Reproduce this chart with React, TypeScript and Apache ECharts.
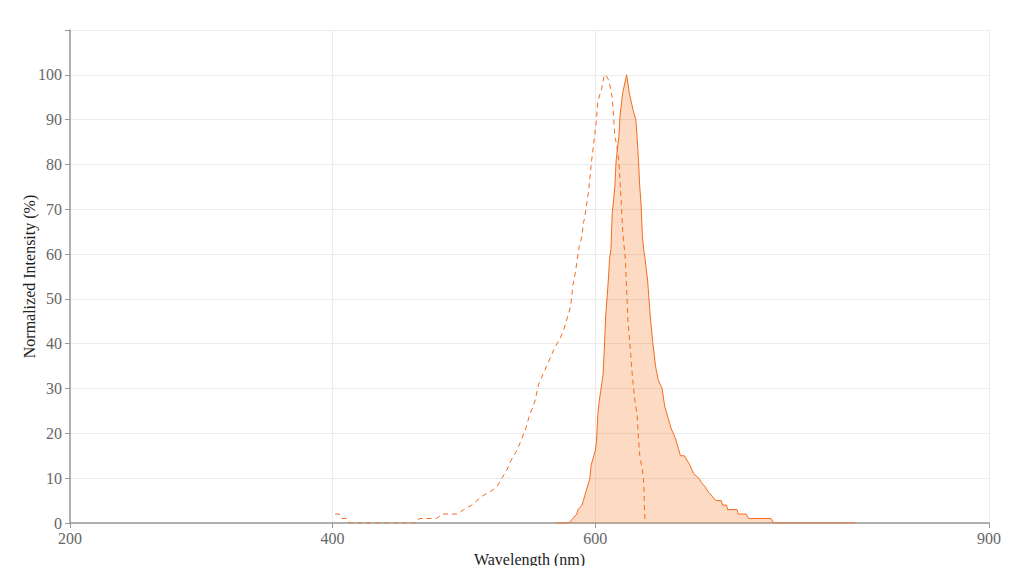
import React, { useEffect, useRef } from "react";
import * as echarts from "echarts";

const xTickLabels = [200, 400, 600, 900];

const excitationWl = [402, 405, 407, 411, 413, 464, 466, 477, 479, 484, 495, 500, 506, 510, 514, 520, 525, 529, 533, 536, 540, 543, 547, 550, 554, 557, 560, 563, 566, 569, 573, 576, 578, 581, 582, 583, 585, 586, 587, 588, 590, 591, 592, 594, 595, 596, 597, 599, 601, 602, 604, 605, 607, 608, 610, 611, 613, 614, 615, 616, 618, 619, 620, 621, 623, 624, 625, 627, 628, 630, 632, 633, 634, 636, 637, 638];
const excitationVal = [2, 2, 1, 1, 0, 0, 1, 1, 1, 2, 2, 3, 4, 5, 6, 7, 8, 10, 12, 14, 16, 18, 21, 24, 27, 31, 33, 35, 37, 39, 41, 43, 45, 48, 50, 53, 56, 58, 60, 62, 64, 67, 68, 72, 74, 77, 80, 85, 90, 94, 96, 97, 100, 100, 99, 98, 95, 91, 86, 85, 81, 76, 71, 65, 59, 52, 45, 38, 34, 28, 24, 19, 15, 12, 9, 0];

const emissionWl = [570, 580, 583, 586, 587, 590, 591, 593, 595, 596, 597, 599, 600, 601, 602, 603, 605, 606, 607, 608, 609, 610, 611, 612, 613, 615, 616, 618, 619, 621, 624, 626, 629, 631, 632, 633, 634, 635, 636, 637, 638, 640, 642, 644, 646, 648, 651, 653, 656, 658, 661, 663, 665, 668, 672, 675, 679, 681, 684, 686, 689, 692, 696, 697, 700, 701, 708, 709, 715, 717, 734, 736, 798];
const emissionVal = [0, 0, 1, 2, 3, 4, 5, 7, 9, 10, 13, 15, 16, 18, 24, 27, 31, 33, 39, 46, 50, 54, 59, 61, 69, 75, 81, 86, 91, 96, 100, 96, 92, 90, 86, 81, 75, 71, 64, 61, 59, 54, 46, 40, 35, 32, 30, 26, 23, 21, 19, 17, 15, 15, 13, 11, 10, 9, 8, 7, 6, 5, 5, 4, 4, 3, 3, 2, 2, 1, 1, 0, 0];

const lineColor = "#f36c1e";
const fontFamily = "'Liberation Serif', 'DejaVu Serif', serif";

export default function App() {
  const ref = useRef<HTMLDivElement>(null);

  useEffect(() => {
    if (!ref.current) return;
    const chart = echarts.init(ref.current, undefined, { renderer: "svg" });
    chart.setOption({
      animation: false,
      textStyle: { fontFamily },
      grid: { left: 70, right: 21, top: 30, bottom: 51, containLabel: false },
      xAxis: {
        type: "value",
        min: 200,
        max: 900,
        name: "Wavelength (nm)",
        nameLocation: "middle",
        nameGap: 28,
        nameMoveOverlap: false,
        nameTextStyle: { color: "#222", fontSize: 16, fontFamily },
        axisLine: { show: true, lineStyle: { color: "#999", width: 1.5 } },
        axisTick: { show: true, length: 5, lineStyle: { color: "#999" }, customValues: xTickLabels },
        axisLabel: { color: "#666", fontSize: 16, fontFamily, margin: 7, customValues: xTickLabels },
        splitLine: { show: true, lineStyle: { color: "#ebebeb", width: 1 } },
      },
      yAxis: {
        type: "value",
        min: 0,
        max: 110,
        interval: 10,
        name: "Normalized Intensity (%)",
        nameLocation: "middle",
        nameGap: 33,
        nameMoveOverlap: false,
        nameTextStyle: { color: "#222", fontSize: 16, fontFamily },
        axisLine: { show: true, lineStyle: { color: "#999", width: 1.5 } },
        axisTick: { show: true, length: 5, lineStyle: { color: "#999" } },
        axisLabel: {
          color: "#666",
          fontSize: 16,
          fontFamily,
          margin: 8,
          formatter: (v: number) => (v > 100 ? "" : String(v)),
        },
        splitLine: { show: true, lineStyle: { color: "#ebebeb", width: 1 } },
      },
      series: [
        {
          name: "Excitation",
          type: "line",
          symbol: "none",
          data: excitationWl.map((w, i) => [w, excitationVal[i]]),
          lineStyle: { color: lineColor, width: 1, type: [5, 4] },
          z: 3,
        },
        {
          name: "Emission",
          type: "line",
          symbol: "none",
          data: emissionWl.map((w, i) => [w, emissionVal[i]]),
          lineStyle: { color: lineColor, width: 1 },
          areaStyle: { color: "rgba(249, 122, 44, 0.4)" },
          z: 2,
        },
      ],
    });
    return () => chart.dispose();
  }, []);

  return <div ref={ref} style={{ width: 1010, height: 574, margin: -8 }} />;
}
